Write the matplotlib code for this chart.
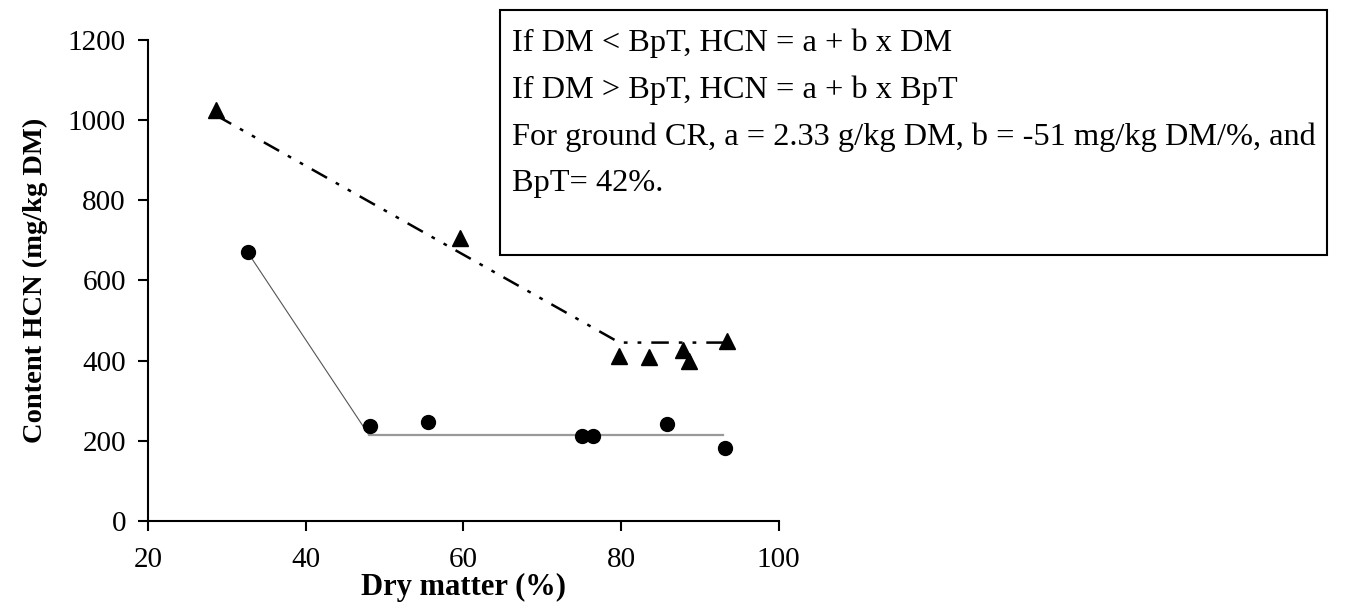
import matplotlib.pyplot as plt
from matplotlib.patches import Rectangle

plt.rcParams['font.family'] = ['Liberation Serif', 'DejaVu Serif']

# data
circle_dm = [32.7, 48.2, 55.5, 75.1, 76.4, 85.8, 93.2]
circle_hcn = [670, 236, 247, 213, 213, 242, 181]

tri_dm = [28.6, 59.6, 79.8, 83.6, 87.9, 88.6, 93.5]
tri_hcn = [1025, 705, 411, 408, 426, 398, 448]

# broken-line fits
fit_circle_dm = [32.7, 48.0, 93.0]
fit_circle_hcn = [668, 215, 215]
fit_tri_dm = [28.6, 79.8, 93.5]
fit_tri_hcn = [1012, 445, 445]

box_lines = [
    "If DM < BpT, HCN = a + b x DM",
    "If DM > BpT, HCN = a + b x BpT",
    "For ground CR, a = 2.33 g/kg DM, b = -51 mg/kg DM/%, and",
    "BpT= 42%.",
]

fig = plt.figure(figsize=(13.47, 6.09), dpi=100)
ax = fig.add_axes([0.110, 0.1445, 0.468, 0.790])

ax.plot(fit_circle_dm[:2], fit_circle_hcn[:2], color="#555555", lw=0.8)
ax.plot(fit_circle_dm[1:], fit_circle_hcn[1:], color="#999999", lw=1.6)
ax.plot(fit_tri_dm, fit_tri_hcn, color="black", lw=1.8, linestyle=(0, (7, 4, 1.5, 4, 1.5, 4)))

ax.plot(circle_dm, circle_hcn, "o", color="black", ms=10, ls="none")
ax.plot(tri_dm, tri_hcn, "^", color="black", ms=12, ls="none")

ax.set_xlim(20, 100)
ax.set_ylim(0, 1200)
ax.set_xticks([20, 40, 60, 80, 100])
ax.set_yticks([0, 200, 400, 600, 800, 1000, 1200])
ax.spines["top"].set_visible(False)
ax.spines["right"].set_visible(False)
ax.spines["left"].set_linewidth(1.5)
ax.spines["bottom"].set_linewidth(1.5)
ax.tick_params(axis="both", direction="out", length=7, width=1.5, labelsize=21)
ax.tick_params(axis="x", pad=12)
ax.tick_params(axis="y", pad=9)

ax.set_xlabel("Dry matter (%)", fontsize=22, fontweight="bold", labelpad=0)
ax.set_ylabel("Content HCN (mg/kg DM)", fontsize=20.5, fontweight="bold", labelpad=14)

# equation box
fig.patches.append(Rectangle((0.371, 0.581), 0.614, 0.403, transform=fig.transFigure,
                             fill=False, edgecolor="black", lw=1.5))
line_y = [43, 90, 137, 183]
for txt, yp in zip(box_lines, line_y):
    fig.text(512 / 1347, 1 - yp / 609, txt, fontsize=23.3, va="center", ha="left")

fig.savefig("out.png", dpi=100)
